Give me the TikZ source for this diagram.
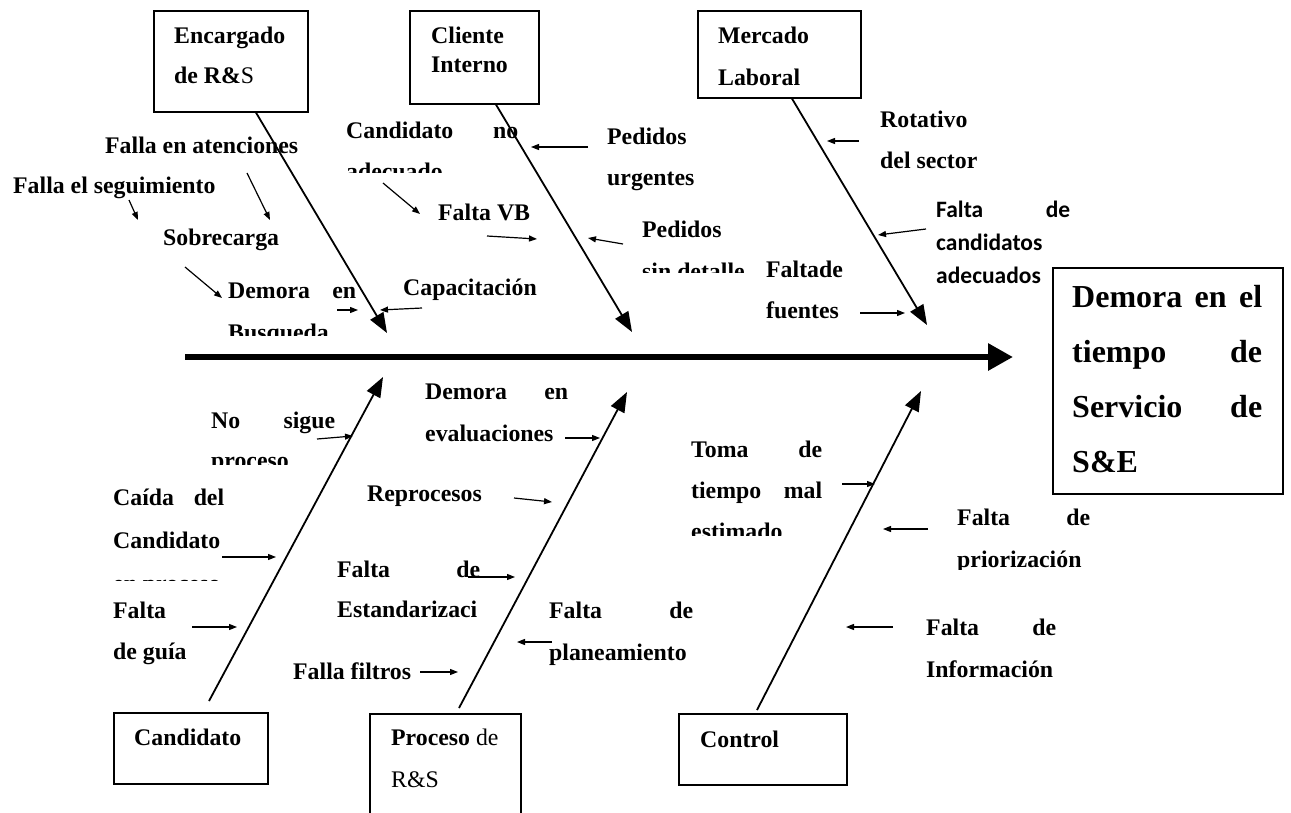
\documentclass[tikz,border=0pt]{standalone}
\usepackage{fontspec}
\setmainfont{Liberation Serif}
\newfontfamily\calibrifont{Carlito}
\usetikzlibrary{arrows.meta,calc}

% label font and helpers for stacked / justified lines
\newcommand\lblsize{\fontsize{23.8}{41}\selectfont}
\newcommand\bigsize{\fontsize{32}{55}\selectfont}
\newcommand\stackl[2]{\vtop{\baselineskip=#1pt\lineskiplimit=-1000pt\lineskip=0pt\relax #2}}
\newcommand\just[2]{\hbox to #1pt{#2}}

\begin{document}
\begin{tikzpicture}[x=1pt,y=-1pt,
  cat/.style={draw, line width=1.6pt, inner sep=0pt, anchor=north west},
  lbl/.style={inner sep=0pt, anchor=base west, font=\lblsize\bfseries},
  sanslbl/.style={inner sep=0pt, anchor=base west, font=\calibrifont\fontsize{23.5}{33}\selectfont\bfseries},
  efflbl/.style={inner sep=0pt, anchor=base west, font=\bigsize\bfseries},
  bone/.style={line width=1.8pt, -{Triangle[length=20pt,width=15pt]}},
  tick/.style={line width=1.2pt, -{Triangle[length=8pt,width=6pt]}},
  spine/.style={line width=6pt, -{Triangle[length=25pt,width=26pt]}}]
\useasboundingbox (0,0) rectangle (1291,812);

% ---- category boxes and effect box ----
\node[cat, minimum width=154pt, minimum height=101pt] (enc) at (153,10) {};
\node[cat, minimum width=129pt, minimum height=93pt]  (cli) at (409,10) {};
\node[cat, minimum width=163pt, minimum height=87pt]  (mer) at (697,10) {};
\node[cat, minimum width=230pt, minimum height=226pt] (eff) at (1052,267) {};
\node[cat, minimum width=154pt, minimum height=71pt]  (cand) at (113,712) {};
\node[cat, minimum width=151pt, minimum height=120pt] (proc) at (369,713) {};
\node[cat, minimum width=168pt, minimum height=71pt]  (ctrl) at (678,713) {};

% ---- box texts ----
\node[lbl] (encT) at (174,43) {\stackl{40}{\hbox{Encargado}\hbox{de R\&{\mdseries S}}}};
\node[lbl] (cliT) at (431,43) {\stackl{29}{\hbox{Cliente}\hbox{Interno}}};
\node[lbl] (merT) at (718,43) {\stackl{42}{\hbox{Mercado}\hbox{Laboral}}};
\node[lbl] (candT) at (134,745) {Candidato};
\node[lbl] (procT) at (391,745) {\stackl{42}{\hbox{Proceso{\mdseries\ de}}\hbox{\mdseries R\&S}}};
\node[lbl] (ctrlT) at (700,747) {Control};
\node[efflbl] (effT) at (1072,307) {\stackl{55}{\just{190}{Demora\hfill en\hfill el}\just{190}{tiempo\hfill de}\just{190}{Servicio\hfill de}\hbox{S\&E}}};

% ---- spine ----
\coordinate (spS) at (185,357);
\coordinate (spE) at (1013,357);
\draw[spine] (spS) -- (spE);

% ---- bones ----
\coordinate (encB) at (387,333);
\coordinate (cliB) at (632,332);
\coordinate (merB) at (927,325);
\coordinate (candB) at (383,377);
\coordinate (procB) at (627,392);
\coordinate (ctrlB) at (921,391);
\draw[bone] ($(enc.south west)+(103,0)$) -- (encB);
\draw[bone] ($(cli.south west)+(87,0)$) -- (cliB);
\draw[bone] ($(mer.south west)+(95,0)$) -- (merB);
\draw[bone] ($(cand.north west)+(96,-11)$) -- (candB);
\draw[bone] ($(proc.north west)+(90,-5)$) -- (procB);
\draw[bone] ($(ctrl.north west)+(79,-3)$) -- (ctrlB);

% ---- cause labels, upper half ----
\node[lbl] (atenc) at (105,153) {Falla en atenciones};
\node[lbl] (segui) at (13,193) {Falla el seguimiento};
\node[lbl] (sobre) at (163,245) {Sobrecarga};
\begin{scope}
  \clip (220,270) rectangle (372,335);
  \node[lbl] (busq) at (228,298) {\stackl{42}{\just{128}{Demora\hfill en}\hbox{Busqueda}}};
\end{scope}
\begin{scope}
  \clip (340,110) rectangle (525,172);
  \node[lbl] (noadec) at (346,138) {\stackl{41}{\just{172}{Candidato\hfill no}\hbox{adecuado}}};
\end{scope}
\node[lbl] (urg) at (607,144) {\stackl{41}{\hbox{Pedidos}\hbox{urgentes}}};
\node[lbl] (vb) at (438,220) {Falta VB};
\begin{scope}
  \clip (636,210) rectangle (790,272);
  \node[lbl] (sindet) at (642,237) {\stackl{42}{\hbox{Pedidos}\hbox{sin detalle}}};
\end{scope}
\node[lbl] (capac) at (403,295) {Capacitación};
\node[lbl] (rotat) at (880,127) {\stackl{41}{\hbox{Rotativo}\hbox{del sector}}};
\node[sanslbl] (cands) at (936,217) {\stackl{33}{\just{134}{Falta\hfill de}\hbox{candidatos}\hbox{adecuados}}};
\node[lbl] (fuent) at (766,277) {\stackl{41}{\hbox{Faltade}\hbox{fuentes}}};

% ---- cause labels, lower half ----
\node[lbl] (evalu) at (425,399) {\stackl{42}{\just{143}{Demora\hfill en}\hbox{evaluaciones}}};
\begin{scope}
  \clip (205,400) rectangle (345,464);
  \node[lbl] (nosig) at (211,428) {\stackl{40}{\just{124}{No\hfill sigue}\hbox{proceso}}};
\end{scope}
\node[lbl] (repro) at (367,501) {Reprocesos};
\begin{scope}
  \clip (105,480) rectangle (240,580);
  \node[lbl] (caida) at (113,505) {\stackl{43}{\just{111}{Caída\hfill del}\hbox{Candidato}\hbox{en proceso}}};
\end{scope}
\node[lbl] (guia) at (113,618) {\stackl{41}{\hbox{Falta}\hbox{de guía}}};
\node[lbl] (estan) at (337,577) {\stackl{40}{\just{143}{Falta\hfill de}\hbox{Estandarizaci}}};
\node[lbl] (filtr) at (293,679) {Falla filtros};
\node[lbl] (plane) at (549,618) {\stackl{42}{\just{144}{Falta\hfill de}\hbox{planeamiento}}};
\begin{scope}
  \clip (685,430) rectangle (830,535);
  \node[lbl] (toma) at (691,457) {\stackl{41}{\just{131}{Toma\hfill de}\just{131}{tiempo\hfill mal}\hbox{estimado}}};
\end{scope}
\begin{scope}
  \clip (950,500) rectangle (1100,569);
  \node[lbl] (prior) at (957,525) {\stackl{42}{\just{133}{Falta\hfill de}\hbox{priorización}}};
\end{scope}
\node[lbl] (infor) at (926,635) {\stackl{42}{\just{130}{Falta\hfill de}\hbox{Información}}};

% ---- small arrows, upper half ----
\coordinate (a1s) at (129,200);  \coordinate (a1e) at (138,220);
\coordinate (a2s) at (247,173);  \coordinate (a2e) at (270,220);
\coordinate (a3s) at (185,267);  \coordinate (a3e) at (222,298);
\coordinate (a4s) at (337,310);  \coordinate (a4e) at (358,310);
\coordinate (a5s) at (422,308);  \coordinate (a5e) at (380,310);
\coordinate (a6s) at (383,183);  \coordinate (a6e) at (420,214);
\coordinate (a7s) at (487,236);  \coordinate (a7e) at (537,239);
\coordinate (a8s) at (588,147);  \coordinate (a8e) at (531,147);
\coordinate (a9s) at (623,244);  \coordinate (a9e) at (588,238);
\coordinate (a10s) at (859,141); \coordinate (a10e) at (827,141);
\coordinate (a11s) at (926,229); \coordinate (a11e) at (878,235);
\coordinate (a12s) at (860,313); \coordinate (a12e) at (905,313);
\foreach \i in {1,...,12} \draw[tick] (a\i s) -- (a\i e);

% ---- small arrows, lower half ----
\coordinate (b1s) at (317,439);  \coordinate (b1e) at (353,436);
\coordinate (b2s) at (222,557);  \coordinate (b2e) at (276,557);
\coordinate (b3s) at (192,627);  \coordinate (b3e) at (237,627);
\coordinate (b4s) at (565,438);  \coordinate (b4e) at (600,438);
\coordinate (b5s) at (514,498);  \coordinate (b5e) at (552,502);
\coordinate (b6s) at (468,577);  \coordinate (b6e) at (515,577);
\coordinate (b7s) at (420,672);  \coordinate (b7e) at (458,672);
\coordinate (b8s) at (552,642);  \coordinate (b8e) at (517,642);
\coordinate (b9s) at (842,484);  \coordinate (b9e) at (875,484);
\coordinate (b10s) at (928,529); \coordinate (b10e) at (883,529);
\coordinate (b11s) at (893,627); \coordinate (b11e) at (846,627);
\foreach \i in {1,...,11} \draw[tick] (b\i s) -- (b\i e);
\end{tikzpicture}
\end{document}
